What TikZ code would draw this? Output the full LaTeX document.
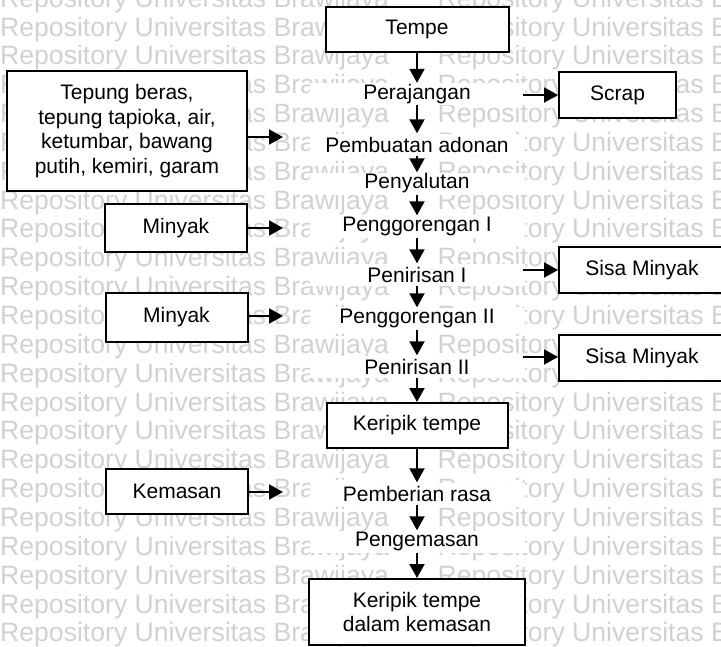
\documentclass[tikz,border=0pt]{standalone}
\usepackage{fontspec}
\setmainfont{Liberation Sans}
\usetikzlibrary{arrows.meta}

\begin{document}
\begin{tikzpicture}[x=1pt,y=-1pt,
    font=\fontsize{21}{24.5}\selectfont,
    kotak/.style={draw,line width=2pt,fill=white,align=center,inner sep=0pt},
    proses/.style={fill=white,inner sep=0pt,minimum width=215pt,minimum height=22pt},
    panah/.style={line width=2pt,-{Triangle[width=15pt,length=14pt]}},
    wm/.style={text=black!18,inner sep=0pt,anchor=base west,font=\fontsize{26.6}{30}\selectfont}]
    \def\xm{417}
    \useasboundingbox (0,0) rectangle (721,646);
    \clip (0,0) rectangle (721,646);
    \foreach \k in{0,1,...,22}{
            \pgfmathsetmacro{\yb}{36+28.85*(\k-1)}
            \node[wm](wa\k) at (0,\yb) {Repository Universitas Brawijaya};
            \node[wm](wb\k) at (437.5,\yb) {Repository Universitas B};
        }
    \node[kotak,minimum width=183pt,minimum height=45pt](tempe) at (\xm,29.5) {Tempe};
    \foreach \n/\y/\t in{rajang/94/Perajangan,adonan/144.5/Pembuatan adonan,salut/183.5/Penyalutan,
            gorengA/226.5/Penggorengan I,tirisA/274.5/Penirisan I,gorengB/318.5/Penggorengan II,
            tirisB/366.5/Penirisan II,rasa/493.5/Pemberian rasa,kemas/541.5/Pengemasan}{
            \node[proses](\n) at (\xm,\y) {\t};
        }
    \node[kotak,minimum width=181pt,minimum height=45pt](keripik) at (\xm,425.5) {Keripik tempe};
    \node[kotak,minimum width=216pt,minimum height=66pt](akhir) at (\xm,612) {Keripik tempe\\dalam kemasan};
    \node[kotak,minimum width=240pt,minimum height=120pt](bahan) at (127,131) {Tepung beras,\\tepung tapioka, air,\\ketumbar, bawang\\putih, kemiri, garam};
    \node[kotak,minimum width=142pt,minimum height=48pt](minyakA) at (176,228) {Minyak};
    \node[kotak,minimum width=142pt,minimum height=49pt](minyakB) at (176.5,317.5) {Minyak};
    \node[kotak,minimum width=142pt,minimum height=45pt](kemasan) at (177,491.5) {Kemasan};
    \node[kotak,minimum width=117pt,minimum height=46pt](scrap) at (617.5,95) {Scrap};
    \node[kotak,minimum width=166pt,minimum height=46pt](sisaA) at (642,270) {Sisa Minyak};
    \node[kotak,minimum width=166pt,minimum height=46pt](sisaB) at (642,358) {Sisa Minyak};
    \path (283,137)coordinate(masukA) (283,228)coordinate(masukB) (283,316)coordinate(masukC) (283,492)coordinate(masukD);
    \path (523,95)coordinate(keluarA) (523,270)coordinate(keluarB) (523,357)coordinate(keluarC);
    \foreach \a/\b in{tempe/rajang,rajang/adonan,adonan/salut,salut/gorengA,gorengA/tirisA,tirisA/gorengB,
            gorengB/tirisB,tirisB/keripik,keripik/rasa,rasa/kemas,kemas/akhir}{
            \draw[panah](\a)--(\b);
        }
    \foreach \b/\c in{bahan/masukA,minyakA/masukB,minyakB/masukC,kemasan/masukD}{
            \draw[panah](\b.east|-\c)--(\c);
        }
    \foreach \b/\c in{scrap/keluarA,sisaA/keluarB,sisaB/keluarC}{
            \draw[panah](\c)--(\b.west|-\c);
        }
\end{tikzpicture}
\end{document}
